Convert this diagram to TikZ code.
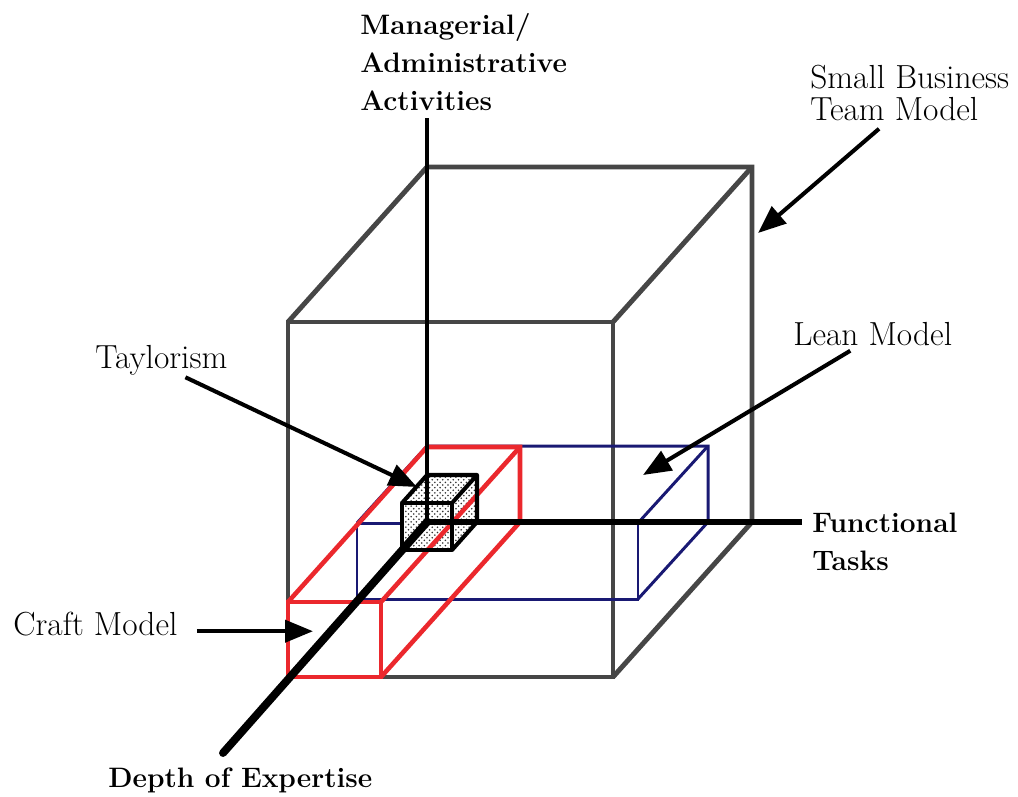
\documentclass[tikz,border=0pt]{standalone}
\usepackage{tikz}
\usetikzlibrary{arrows.meta,patterns}
\definecolor{cubegray}{RGB}{70,70,70}
\definecolor{craftred}{RGB}{235,40,45}
\definecolor{leanblue}{RGB}{25,25,115}

\begin{document}
\begin{tikzpicture}[x=0.02cm,y=-0.02cm,
    edge/.style={draw=cubegray,line width=2.8pt,line join=miter},
    craftbox/.style={draw=craftred,line width=2.6pt,line join=miter},
    leanbox/.style={draw=leanblue,line width=1.7pt,line join=miter},
    taybox/.style={draw=black,line width=2.3pt,line join=round},
    axis/.style={draw=black,line width=3.4pt},
    arr/.style={-{Triangle[length=0.56cm,width=0.44cm]},line width=2.3pt},
    lbl/.style={font=\fontsize{19}{18.2}\selectfont,inner sep=0pt,anchor=base west,align=left},
    bold/.style={font=\fontsize{16}{21.5}\selectfont\bfseries,inner sep=0pt,anchor=base west,align=left},
]
\useasboundingbox (0,0) rectangle (1018,796);

% small business team model (big cube)
\coordinate (O) at (427,522);
\coordinate (bTL) at (427,167);
\coordinate (bTR) at (752,167);
\coordinate (bBR) at (752,522);
\coordinate (fTL) at (288,322);
\coordinate (fTR) at (613,322);
\coordinate (fBR) at (613,677);
\draw[edge] (fTL) rectangle (fBR);
\draw[edge] (fTL) -- (bTL) -- (bTR) -- (bBR) -- (fBR);
\draw[edge] (fTR) -- (bTR);

% lean model
\coordinate (lbTL) at (427,446);
\coordinate (lbTR) at (708,446);
\coordinate (lbBR) at (708,522);
\coordinate (lfTL) at (357,523);
\coordinate (lfTR) at (638,523);
\coordinate (lfBR) at (638,599);
\draw[leanbox] (lfTL) rectangle (lfBR);
\draw[leanbox] (lfTL) -- (lbTL) -- (lbTR) -- (lbBR) -- (lfBR);
\draw[leanbox] (lfTR) -- (lbTR);

% taylorism (small cube)
\coordinate (tbTL) at (427,475);
\coordinate (tbTR) at (477,475);
\coordinate (tbBR) at (477,522);
\coordinate (tfTL) at (402,503);
\coordinate (tfTR) at (452,503);
\coordinate (tfBR) at (452,550);
\coordinate (tfBL) at (402,550);
\path[fill=white,postaction={pattern=crosshatch dots,pattern color=black!80}]
  (tfTL) -- (tbTL) -- (tbTR) -- (tbBR) -- (tfBR) -- (tfBL) -- cycle;

% craft model
\coordinate (cbTL) at (427,447);
\coordinate (cbTR) at (520,447);
\coordinate (cbBR) at (520,522);
\coordinate (cfTL) at (288,602);
\coordinate (cfTR) at (381,602);
\coordinate (cfBR) at (381,677);
\draw[craftbox] (cfTL) rectangle (cfBR);
\draw[craftbox] (cfTL) -- (cbTL) -- (cbTR) -- (cbBR) -- (cfBR);
\draw[craftbox] (cfTR) -- (cbTR);

\draw[taybox] (tfTL) rectangle (tfBR);
\draw[taybox] (tfTL) -- (tbTL) -- (tbTR) -- (tbBR) -- (tfBR);
\draw[taybox] (tfTR) -- (tbTR);

% axes
\coordinate (mTop) at (427,118);
\coordinate (fEnd) at (802,522);
\coordinate (dEnd) at (223,753);
\draw[axis,line width=2.3pt] (mTop) -- (O);
\draw[axis] (O) -- (fEnd);
\draw[axis,line width=4.5pt,line cap=round] (O) -- (dEnd);

% labels (base = last line)
\node[bold] (mgr) at (360,110) {Managerial/\\Administrative\\Activities};
\node[lbl] (sbt) at (810,120) {Small Business\\Team Model};
\node[lbl] (lean) at (793,345) {Lean Model};
\node[lbl] (tay) at (95,368) {Taylorism};
\node[lbl] (craft) at (13,635) {Craft Model};
\node[bold] (func) at (812,570) {Functional\\Tasks};
\node[bold] (depth) at (108,787) {Depth of Expertise};

\coordinate (sbtTip) at (758,233);
\coordinate (leanTip) at (643,475);
\coordinate (tayTip) at (417,487);
\coordinate (craftTip) at (313,628);
\draw[arr,shorten <=0.25cm] (sbt.233) -- (sbtTip);
\draw[arr,shorten <=0.2cm] (lean.221) -- (leanTip);
\draw[arr,shorten <=0.1cm] (tay.322) -- (tayTip);
\draw[arr,shorten <=0.38cm] (craft.mid east) -- (craft.mid east -| craftTip);
\end{tikzpicture}
\end{document}
